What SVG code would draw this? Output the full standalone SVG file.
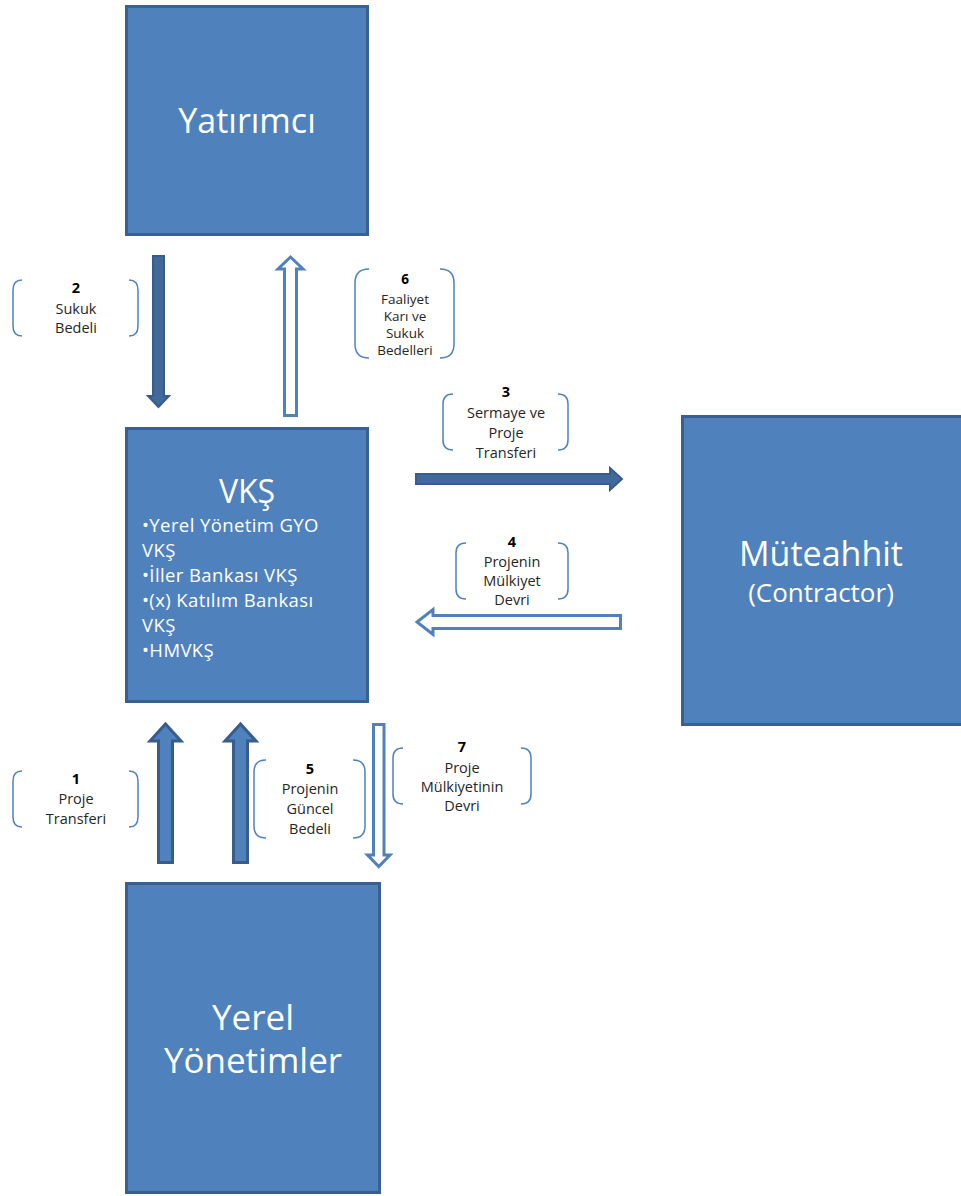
<svg xmlns="http://www.w3.org/2000/svg" width="961" height="1196" viewBox="0 0 961 1196">
  <style>
    .box { fill: #4F81BD; stroke: #3A6090; stroke-width: 3; }
    .title { fill: #FFFFFF; font-family: "Open Sans", "Noto Sans", sans-serif; text-anchor: middle; }
    .bullet { fill: #FFFFFF; font-family: "Open Sans", "Noto Sans", sans-serif; font-size: 18.5px; letter-spacing: 0.4px; }
    .arrow-dark { fill: #41699C; stroke: #385D8A; stroke-width: 2; stroke-linejoin: miter; }
    .arrow-solid { fill: #4F81BD; stroke: #385D8A; stroke-width: 3; stroke-linejoin: miter; }
    .arrow-open { fill: #FFFFFF; stroke: #4F81BD; stroke-width: 3; stroke-linejoin: miter; }
    .brace { fill: none; stroke: #4F81BD; stroke-width: 1.5; }
    .lbl { fill: #262626; font-family: "Open Sans", "Noto Sans", sans-serif; font-size: 14.5px; text-anchor: middle; }
    .lbl-tight { font-size: 13.5px; }
    .num { fill: #000000; font-weight: bold; }
  </style>

  <!-- Nodes -->
  <g id="yatirimci">
    <rect class="box" x="126.5" y="6.5" width="241" height="228"/>
    <text class="title" x="247" y="133" font-size="34">Yatırımcı</text>
  </g>

  <g id="vks">
    <rect class="box" x="126.5" y="428.5" width="241" height="273"/>
    <text class="title" x="247" y="503" font-size="32">VKŞ</text>
    <text class="bullet" x="142" y="532">•Yerel Yönetim GYO</text>
    <text class="bullet" x="142" y="557">VKŞ</text>
    <text class="bullet" x="142" y="582">•İller Bankası VKŞ</text>
    <text class="bullet" x="142" y="607">•(x) Katılım Bankası</text>
    <text class="bullet" x="142" y="632">VKŞ</text>
    <text class="bullet" x="142" y="657">•HMVKŞ</text>
  </g>

  <g id="muteahhit">
    <rect class="box" x="682.5" y="416.5" width="290" height="308"/>
    <text class="title" x="821" y="566" font-size="34">Müteahhit</text>
    <text class="title" x="821" y="602" font-size="26">(Contractor)</text>
  </g>

  <g id="yerel-yonetimler">
    <rect class="box" x="126.5" y="883.5" width="253" height="309"/>
    <text class="title" x="253" y="1030" font-size="35">Yerel</text>
    <text class="title" x="253" y="1073" font-size="35">Yönetimler</text>
  </g>

  <!-- Connectors -->
  <g id="connectors">
    <!-- 2: Yatırımcı -> VKŞ -->
    <path class="arrow-dark" d="M153,256 L164,256 L164,396 L169,396 L158.5,407 L148,396 L153,396 Z"/>
    <!-- 6: VKŞ -> Yatırımcı -->
    <path class="arrow-open" d="M284.5,415.5 L296.5,415.5 L296.5,269 L303,269 L290.5,257 L278,269 L284.5,269 Z"/>
    <!-- 3: VKŞ -> Müteahhit -->
    <path class="arrow-dark" d="M416,474 L610,474 L610,468 L622,479 L610,490 L610,484 L416,484 Z"/>
    <!-- 4: Müteahhit -> VKŞ -->
    <path class="arrow-open" d="M620.5,615.5 L620.5,628.5 L433,628.5 L433,634.5 L417,622 L433,609.5 L433,615.5 Z"/>
    <!-- 1: Yerel Yönetimler -> VKŞ -->
    <path class="arrow-solid" d="M158.5,862.5 L172.5,862.5 L172.5,741 L181,741 L165.5,724 L150,741 L158.5,741 Z"/>
    <!-- 5: Yerel Yönetimler -> VKŞ -->
    <path class="arrow-solid" d="M233.5,862.5 L247.5,862.5 L247.5,741 L256,741 L240.5,724 L225,741 L233.5,741 Z"/>
    <!-- 7: VKŞ -> Yerel Yönetimler -->
    <path class="arrow-open" d="M373.5,724.5 L384,724.5 L384,855 L390,855 L378.75,866.5 L367.5,855 L373.5,855 Z"/>
  </g>

  <!-- Connector labels -->
  <g id="label-2">
    <path class="brace" d="M22,280 Q13,280 13,290 L13,326 Q13,336 22,336"/>
    <path class="brace" d="M129,280 Q138,280 138,290 L138,326 Q138,336 129,336"/>
    <text class="lbl" x="76" y="293"><tspan class="num">2</tspan></text>
    <text class="lbl" x="76" y="314">Sukuk</text>
    <text class="lbl" x="76" y="333">Bedeli</text>
  </g>

  <g id="label-6">
    <path class="brace" d="M369,269 Q355,269 355,283 L355,344 Q355,358 369,358"/>
    <path class="brace" d="M440,269 Q454,269 454,283 L454,344 Q454,358 440,358"/>
    <text class="lbl lbl-tight" x="405" y="284"><tspan class="num">6</tspan></text>
    <text class="lbl lbl-tight" x="405" y="304">Faaliyet</text>
    <text class="lbl lbl-tight" x="405" y="321">Karı ve</text>
    <text class="lbl lbl-tight" x="405" y="338">Sukuk</text>
    <text class="lbl lbl-tight" x="405" y="355">Bedelleri</text>
  </g>

  <g id="label-3">
    <path class="brace" d="M453,394 Q443,394 443,404 L443,440 Q443,450 453,450"/>
    <path class="brace" d="M558,394 Q568,394 568,404 L568,440 Q568,450 558,450"/>
    <text class="lbl" x="506" y="397"><tspan class="num">3</tspan></text>
    <text class="lbl" x="506" y="418">Sermaye ve</text>
    <text class="lbl" x="506" y="438">Proje</text>
    <text class="lbl" x="506" y="458">Transferi</text>
  </g>

  <g id="label-4">
    <path class="brace" d="M466,543 Q456,543 456,553 L456,589 Q456,599 466,599"/>
    <path class="brace" d="M558,543 Q568,543 568,553 L568,589 Q568,599 558,599"/>
    <text class="lbl" x="512" y="547"><tspan class="num">4</tspan></text>
    <text class="lbl" x="512" y="567">Projenin</text>
    <text class="lbl" x="512" y="586">Mülkiyet</text>
    <text class="lbl" x="512" y="605">Devri</text>
  </g>

  <g id="label-1">
    <path class="brace" d="M22,771 Q13,771 13,781 L13,817 Q13,827 22,827"/>
    <path class="brace" d="M129,771 Q138,771 138,781 L138,817 Q138,827 129,827"/>
    <text class="lbl" x="76" y="784"><tspan class="num">1</tspan></text>
    <text class="lbl" x="76" y="804">Proje</text>
    <text class="lbl" x="76" y="824">Transferi</text>
  </g>

  <g id="label-5">
    <path class="brace" d="M266,760 Q254,760 254,772 L254,826 Q254,838 266,838"/>
    <path class="brace" d="M353,760 Q365,760 365,772 L365,826 Q365,838 353,838"/>
    <text class="lbl" x="310" y="774"><tspan class="num">5</tspan></text>
    <text class="lbl" x="310" y="794">Projenin</text>
    <text class="lbl" x="310" y="814">Güncel</text>
    <text class="lbl" x="310" y="834">Bedeli</text>
  </g>

  <g id="label-7">
    <path class="brace" d="M403,748 Q393,748 393,758 L393,794 Q393,804 403,804"/>
    <path class="brace" d="M521,748 Q531,748 531,758 L531,794 Q531,804 521,804"/>
    <text class="lbl" x="462" y="752"><tspan class="num">7</tspan></text>
    <text class="lbl" x="462" y="773">Proje</text>
    <text class="lbl" x="462" y="792">Mülkiyetinin</text>
    <text class="lbl" x="462" y="811">Devri</text>
  </g>
</svg>
